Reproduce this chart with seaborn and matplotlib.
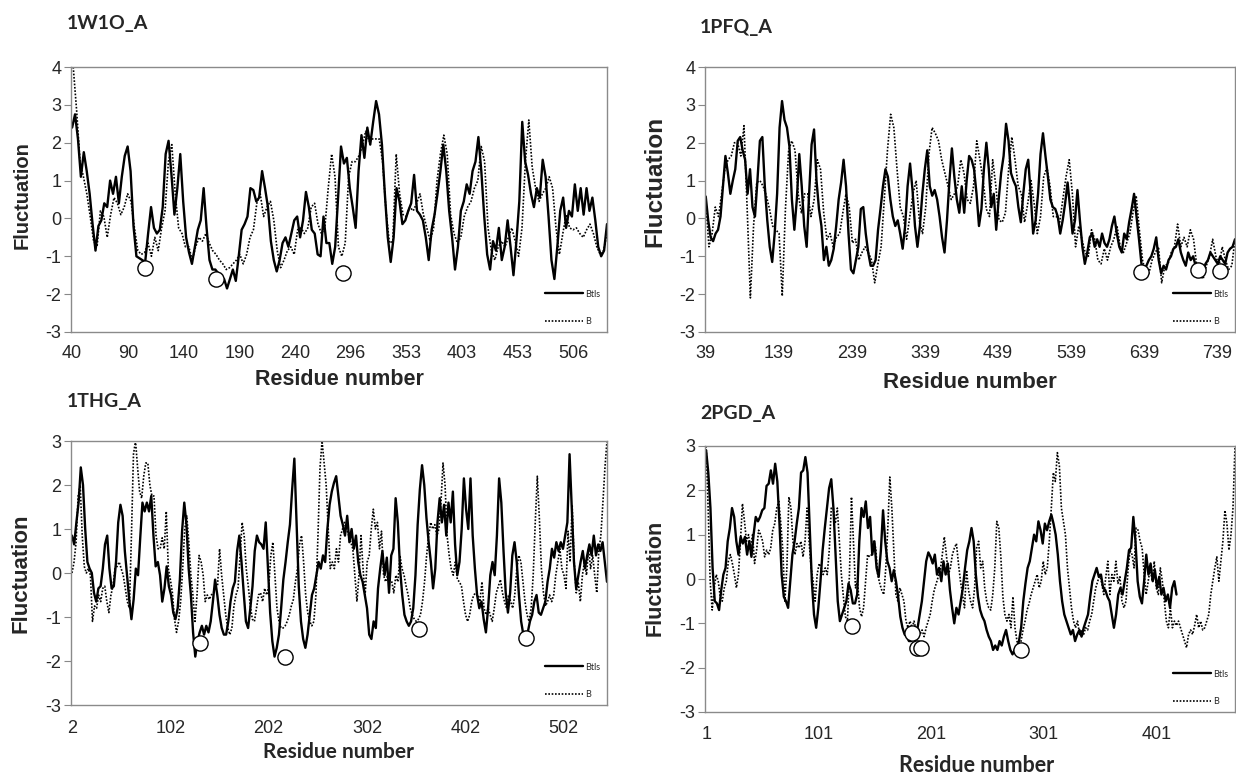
import numpy as np
import matplotlib
matplotlib.use("Agg")
import matplotlib.pyplot as plt
import seaborn as sns
from matplotlib.lines import Line2D

# ---------------------------------------------
# Data: fluctuation profiles
# (values sampled left to right along each chain)
# ---------------------------------------------
p1_name = "1W1O_A"
p1_labels = ["40", "90", "140", "190", "240", "296", "353", "403", "453", "506"]
p1_nres = 480
p1_btls = [2.4, 2.75, 2.1, 1.1, 1.75, 1.25, 0.65, -0.15, -0.85, -0.2, -0.05, 0.4, 0.3, 1.0, 0.65,
           1.1, 0.4, 1.1, 1.65, 1.9, 1.25, -0.2, -1.0, -1.05, -1.1, -1.15, -0.4, 0.3, -0.25, -0.4,
           -0.3, 0.3, 1.7, 2.05, 1.15, 0.1, 0.8, 1.7, 0.45, -0.5, -0.9, -1.2, -0.75, -0.3, -0.05,
           0.8, -0.25, -1.1, -1.35, -1.35, -1.45, -1.65, -1.6, -1.85, -1.6, -1.35, -1.65, -1.0, -0.3,
           -0.15, 0.05, 0.8, 0.75, 0.45, 0.55, 1.25, 0.8, 0.3, -0.6, -1.1, -1.4, -1.1, -0.65, -0.5,
           -0.75, -0.4, -0.05, 0.05, -0.5, -0.05, 0.7, 0.3, -0.3, -0.4, -0.95, -1.0, 0.05, -0.65,
           -0.65, -1.2, -0.75, 0.55, 1.9, 1.45, 1.6, 0.8, 0.3, -0.25, 1.25, 2.2, 1.6, 2.4, 1.95, 2.55,
           3.1, 2.75, 1.95, 0.65, -0.5, -1.15, -0.5, 0.8, 0.45, -0.15, -0.05, 0.2, 0.4, 1.15, 0.2,
           0.1, -0.05, -0.5, -1.1, -0.3, 0.1, 0.65, 1.25, 1.95, 1.25, 0.2, -0.5, -1.35, -0.75, 0.2,
           0.45, 0.9, 0.65, 1.25, 1.5, 2.15, 1.25, 0.05, -0.95, -1.35, -0.6, -0.85, -0.25, -1.1,
           -0.75, -0.05, -0.75, -1.5, -0.6, 0.45, 2.55, 1.5, 1.15, 0.65, 0.3, 0.8, 0.55, 1.55, 1.1,
           0.05, -1.1, -1.6, -0.75, 0.2, 0.55, -0.25, 0.2, 0.05, 0.9, 0.2, 0.8, 0.1, 0.8, 0.2, 0.55,
           -0.05, -0.75, -1.0, -0.85, -0.15]
p1_b = [4.0, 2.85, 1.5, 1.1, 0.65, 0.05, -0.6, -0.75, 0.2, 0.05, -0.5, 0.1, 0.55, 0.4, 0.1, 0.3,
        0.65, 0.45, -0.25, -0.85, -0.95, -0.9, -0.65, -1.0, -0.5, -0.85, -0.25, 0.2, 1.5, 1.95, 0.65,
        -0.25, -0.4, -0.75, -0.75, -1.1, -0.75, -0.5, -0.6, -0.4, -0.65, -0.85, -0.95, -1.1, -1.2,
        -1.35, -1.3, -1.2, -1.1, -0.95, -1.2, -0.95, -0.5, -0.3, 0.4, 0.65, 0.05, 0.3, 0.45, -0.05,
        -0.85, -1.3, -1.1, -0.85, -0.75, -0.95, -0.3, -0.25, -0.4, -0.25, 0.3, 0.4, -0.15, -0.4,
        -0.25, 0.8, 1.7, 1.1, -0.75, -1.0, -0.65, 1.1, 1.5, 1.5, 1.65, 1.9, 2.3, 2.05, 2.1, 2.1, 2.1,
        1.5, 0.2, -0.65, -0.6, 1.7, 0.65, 0.1, 0.05, 0.3, 0.2, 0.4, 0.65, 0.1, -0.25, -0.6, -0.25,
        1.0, 1.7, 2.2, 1.7, 0.1, -0.4, -0.65, -0.5, 0.05, 0.3, 0.45, 0.8, 1.0, 1.9, 1.5, -0.25,
        -0.85, -1.1, -0.75, -0.6, -0.75, -0.5, -0.25, -0.6, -1.0, -0.25, 1.5, 2.6, 1.35, 0.8, 0.45,
        0.65, 0.8, 1.1, 0.8, -0.25, -0.95, -0.4, 0.1, -0.25, -0.3, -0.25, -0.4, -0.5, -0.3, -0.15,
        -0.4, -0.75, -0.95, -0.85, -0.4]
p1_sites_x = [65, 129, 243]
p1_sites_y = [-1.3, -1.6, -1.45]

p2_name = "1PFQ_A"
p2_labels = ["39", "139", "239", "339", "439", "539", "639", "739"]
p2_nres = 724
p2_btls = [0.58, -0.05, -0.5, -0.6, -0.4, -0.3, 0.05, 0.85, 1.65, 1.2, 0.65, 1.0, 1.3, 2.05, 2.15,
           1.8, 1.55, 0.65, 1.3, 0.3, 0.05, 1.0, 2.05, 2.15, 0.85, -0.05, -0.75, -1.15, -0.4, 0.65,
           2.4, 3.1, 2.6, 2.4, 1.9, 0.5, -0.3, 0.5, 1.7, 0.85, -0.2, -0.75, 0.65, 1.95, 2.35, 1.0,
           0.25, -0.2, -1.1, -0.75, -1.25, -1.1, -0.8, -0.2, 0.5, 0.95, 1.55, 0.85, -0.4, -1.35,
           -1.45, -1.1, -0.75, 0.25, 0.3, -0.4, -0.9, -1.25, -1.25, -1.1, -0.3, 0.25, 0.85, 1.3, 1.1,
           0.5, 0.05, -0.2, -0.05, -0.4, -0.8, -0.2, 0.85, 1.45, 0.75, -0.2, -0.75, -0.2, 0.65, 1.3,
           1.8, 0.85, 0.6, 0.75, 0.5, 0.05, -0.5, -0.9, -0.05, 1.0, 1.85, 1.1, 0.5, 0.15, 0.85, 0.15,
           1.0, 1.65, 1.55, 1.3, 0.65, -0.2, 0.25, 1.3, 2.0, 1.3, 0.3, 0.65, -0.3, 0.5, 1.2, 1.65,
           2.5, 2.05, 1.2, 1.0, 0.85, 0.3, -0.1, 0.65, 1.3, 1.55, 0.65, -0.4, -0.05, 0.65, 1.7, 2.25,
           1.65, 1.1, 0.5, 0.3, 0.25, 0.05, -0.4, -0.05, 0.4, 0.95, 0.3, -0.4, -0.05, 0.75, -0.05,
           -0.75, -1.2, -0.9, -0.5, -0.4, -0.75, -0.55, -0.75, -0.4, -0.65, -0.75, -0.55, -0.2, 0.05,
           -0.4, -0.75, -0.9, -0.4, -0.55, -0.1, 0.25, 0.65, 0.05, -0.55, -1.2, -1.35, -1.25, -1.1,
           -1.0, -0.8, -0.5, -1.1, -1.45, -1.25, -1.35, -1.1, -1.0, -0.8, -0.75, -0.55, -0.9, -1.1,
           -1.25, -0.9, -1.1, -1.0, -1.25, -1.45, -1.5, -1.45, -1.2, -1.1, -0.9, -1.0, -1.1, -1.2,
           -1.0, -1.1, -1.2, -0.9, -0.8, -0.75, -0.55]
p2_b = [0.5, -0.75, -0.4, 0.3, 0.05, 0.65, 1.3, 1.55, 1.65, 2.0, 2.0, 1.65, 2.45, 0.25, -2.1, -0.2,
        0.95, 1.0, 0.85, 0.6, 0.25, -0.2, -0.3, -0.4, -2.05, 0.25, 1.8, 2.05, 1.8, 0.65, 0.15, 0.65,
        0.65, 0.05, 0.5, 1.55, 1.3, 0.15, -0.55, -0.4, -0.75, -0.5, -0.4, 0.15, 0.65, 0.3, -0.65,
        -0.55, -1.1, -0.9, -0.75, -0.9, -1.1, -1.7, -1.2, -0.75, 0.5, 1.8, 2.75, 2.4, 1.3, 0.3,
        0.05, -0.55, 0.05, 0.65, 1.0, -0.05, -0.4, 0.3, 1.7, 2.4, 2.25, 2.05, 1.55, 1.2, 0.85, 0.5,
        0.65, 0.85, 1.55, 1.2, 0.5, 0.4, 0.85, 2.05, 1.55, 1.0, 0.25, 0.05, 1.55, 0.85, -0.05, -0.1,
        0.15, 1.3, 2.15, 1.55, 0.85, 0.65, -0.1, 0.4, 1.0, 0.4, -0.4, 0.05, 1.1, 1.35, 0.85, 0.05,
        0.05, -0.1, 0.5, 1.1, 1.55, 0.65, -0.75, -0.2, -0.55, -0.9, -1.0, -0.3, -0.55, -1.1, -1.2,
        -0.8, -1.1, -0.75, -0.55, -0.2, -0.75, -0.9, -0.65, -0.4, 0.15, 0.6, -0.3, -1.1, -1.45,
        -1.45, -1.1, -0.9, -0.75, -1.7, -1.25, -1.2, -0.9, -0.75, -0.15, -0.75, -0.5, -0.75, -0.3,
        -0.55, -1.25, -1.5, -1.6, -1.25, -1.0, -0.55, -1.0, -1.25, -0.75, -1.1, -1.35, -1.25, -0.55]
p2_sites_x = [596, 673, 704]
p2_sites_y = [-1.42, -1.37, -1.39]

p3_name = "1THG_A"
p3_labels = ["2", "102", "202", "302", "402", "502"]
p3_nres = 544
p3_btls = [0.85, 0.65, 1.15, 1.6, 2.4, 2.0, 1.0, 0.25, 0.1, 0.0, -0.45, -0.65, -0.35, -0.3, 0.1,
           0.65, 0.85, 0.1, -0.35, -0.3, 0.25, 1.15, 1.55, 1.3, 0.5, -0.05, -0.6, -1.05, -0.6, 0.1,
           -0.05, 0.8, 1.6, 1.4, 1.6, 1.4, 1.75, 0.85, 0.15, 0.25, -0.05, -0.65, -0.35, 0.15, -0.3,
           -0.5, -0.9, -1.05, -0.8, -0.15, 0.95, 1.6, 1.1, 0.1, -0.5, -1.35, -1.9, -1.55, -1.35,
           -1.2, -1.4, -1.2, -1.35, -1.1, -0.65, -0.15, -0.5, -0.95, -1.25, -1.4, -1.4, -1.1, -0.65,
           -0.35, -0.2, 0.5, 0.85, 0.25, -0.45, -1.1, -1.25, -0.8, -0.3, 0.5, 0.85, 0.7, 0.65, 0.55,
           1.15, 0.1, -0.9, -1.55, -1.9, -1.7, -1.4, -0.8, -0.15, 0.25, 0.7, 1.1, 1.9, 2.6, 1.15,
           -0.3, -1.1, -1.5, -1.7, -1.4, -0.95, -0.5, -0.35, -0.05, 0.25, 0.1, 0.4, 0.25, 1.0, 1.55,
           1.85, 2.05, 2.2, 1.75, 1.3, 1.1, 0.85, 1.3, 0.7, 1.0, 0.55, 0.85, 0.25, -0.05, -0.2, -0.5,
           -0.8, -1.4, -1.5, -1.1, -1.25, -0.35, 0.1, 0.5, -0.05, 0.35, -0.45, 0.4, 0.55, 1.7, 1.15,
           0.1, -0.5, -0.95, -1.1, -1.2, -1.1, -0.8, -0.05, 1.1, 1.9, 2.45, 2.0, 1.25, 0.7, 0.25,
           -0.35, 0.1, 1.15, 1.7, 1.15, 1.55, 0.85, 1.6, 1.15, 1.85, 0.65, -0.05, 0.25, 1.0, 2.15,
           1.45, 1.0, 2.15, 0.85, 0.1, -0.5, -0.8, -0.65, -1.05, -1.35, -0.8, -0.05, 0.25, -0.05,
           0.85, 2.15, 1.6, 0.5, -0.45, -0.9, -0.45, 0.4, 0.7, 0.25, -0.5, -1.1, -1.4, -1.4, -1.35,
           -1.1, -0.95, -0.65, -0.5, -0.9, -0.95, -0.8, -0.65, -0.2, 0.1, 0.55, 0.35, 0.7, 0.5, 0.7,
           0.55, 0.85, 1.15, 2.7, 1.45, 0.25, -0.35, -0.05, 0.25, 0.5, 0.1, 0.4, 0.65, 0.4, 0.85,
           0.4, 0.65, 0.5, 0.7, 0.25, -0.2]
p3_b = [0.0, 0.25, 0.7, 1.75, 2.0, 0.85, 0.15, 0.0, 0.1, -0.05, -1.1, -0.75, -0.8, -0.5, -0.65,
        -0.35, -0.3, -0.65, -0.9, -0.5, -0.3, 0.1, 0.15, 0.25, 0.1, -0.05, -0.35, -0.65, -0.8, 0.85,
        2.7, 3.0, 2.4, 1.85, 1.7, 2.2, 2.5, 2.5, 2.0, 1.75, 1.75, 0.85, 0.55, 0.55, 0.8, 0.55, 1.4,
        0.1, -0.15, -0.45, -1.05, -1.35, -1.1, -0.65, 0.1, 1.0, 1.3, 0.7, -0.05, -0.5, -1.1, -0.5,
        0.4, 0.25, -0.05, -0.65, -0.5, -0.6, -0.5, -0.45, -0.3, -0.3, 0.55, -0.05, -0.5, -0.95,
        -1.25, -1.4, -1.25, -0.75, -0.5, -0.35, 0.4, 1.15, 0.85, 0.1, -0.3, -0.75, -1.05, -1.1,
        -0.8, -0.5, -0.45, -0.65, -0.35, -0.5, -0.3, 0.4, 0.7, -0.05, -0.8, -1.1, -1.25, -1.25,
        -1.2, -1.1, -0.95, -0.75, -0.6, -0.2, 0.1, 0.65, 0.85, 0.25, -0.5, -0.9, -1.1, -1.2, -1.1,
        -0.5, 0.85, 2.4, 3.0, 2.5, 2.0, 1.0, 0.1, 0.25, 0.1, 0.55, 0.25, 0.85, 1.0, 1.15, 1.0, 0.85,
        0.7, 0.55, -0.05, -0.65, -0.05, 0.85, 0.1, -0.5, 0.25, 0.4, 1.0, 1.45, 1.0, 1.15, 0.55,
        0.95, -0.05, -0.2, -0.05, -0.15, -0.2, -0.45, -0.05, -0.2, 0.4, 0.1, -0.05, -0.3, -0.5,
        -0.8, -0.95, -1.05, -1.1, -1.05, -0.95, -0.65, -0.2, 0.4, 0.85, 1.15, 1.0, 1.1, 0.85, 1.0,
        1.6, 2.5, 2.0, 0.85, 0.4, 0.1, -0.05, 0.25, -0.15, -0.2, -0.3, -0.65, -0.95, -1.1, -0.95,
        -0.65, -0.5, -0.45, -0.5, -0.65, -0.2, -0.8, -0.95, -0.8, -0.95, -1.1, -0.8, -0.45, -0.3,
        -0.15, -0.45, -0.65, -0.8, -0.5, -0.65, -0.8, -0.5, 0.1, 0.4, 0.25, -0.2, -0.65, -0.95,
        -1.1, -0.8, -0.05, 1.15, 2.2, 1.25, 0.1, -0.45, -0.75, -0.65, -0.5, -0.65, -0.5, -0.05,
        0.25, 0.55, 0.1, -0.05, -0.35, 0.95, 0.25, 1.55, 0.25, -0.45, -0.2, -0.65, -0.05, 0.25,
        -0.05, 0.55, 0.1, 0.4, -0.05, -0.45, 0.5, 0.85, 1.6, 2.4, 3.0]
p3_sites_x = [130, 217, 353, 462]
p3_sites_y = [-1.6, -1.9, -1.27, -1.48]

p4_name = "2PGD_A"
p4_labels = ["1", "101", "201", "301", "401"]
p4_nres = 470
p4_btls_last = 418
p4_btls = [2.9, 2.4, 1.6, 0.25, -0.5, -0.55, -0.7, -0.25, 0.1, 0.25, 0.85, 1.15, 1.6, 1.4, 0.85,
           0.55, 0.95, 0.8, 0.95, 0.55, 0.85, 0.5, 1.0, 1.4, 1.3, 1.4, 1.55, 1.6, 2.1, 2.15, 2.45,
           2.15, 2.6, 2.2, 1.25, 0.1, -0.4, -0.5, -0.65, -0.05, 0.55, 0.85, 1.25, 1.6, 2.4, 2.45,
           2.75, 2.4, 1.15, -0.05, -0.8, -1.1, -0.65, -0.05, 0.65, 1.15, 1.6, 2.05, 2.25, 1.6, 0.55,
           -0.5, -0.95, -0.8, -0.65, -0.5, -0.1, -0.25, -0.55, -0.55, -0.35, 0.85, 1.6, 1.4, 1.75,
           1.15, 1.4, 0.55, 0.85, 0.25, 0.05, 0.65, 1.55, 0.85, 0.4, 0.25, -0.05, 0.2, -0.05, -0.4,
           -0.85, -1.1, -1.25, -1.3, -1.4, -1.4, -1.3, -1.15, -1.1, -0.8, -0.5, -0.05, 0.4, 0.6, 0.5,
           0.35, 0.55, 0.1, 0.25, -0.05, 0.4, 0.1, 0.35, -0.25, -0.65, -1.0, -0.65, -0.8, -0.5, -0.2,
           0.25, 0.65, 0.85, 1.15, 0.85, 0.1, -0.4, -0.7, -0.85, -0.95, -1.15, -1.3, -1.4, -1.6,
           -1.5, -1.6, -1.4, -1.5, -1.3, -1.15, -1.4, -1.6, -1.7, -1.6, -1.55, -1.4, -1.1, -0.5,
           -0.1, 0.25, 0.4, 0.7, 1.0, 0.85, 1.3, 1.1, 0.8, 1.25, 1.1, 1.3, 1.45, 1.25, 1.0, 0.55,
           -0.05, -0.5, -0.8, -0.95, -1.1, -1.25, -1.15, -1.4, -1.25, -1.15, -1.3, -1.1, -0.95, -0.8,
           -0.4, -0.05, 0.1, 0.25, 0.05, 0.1, -0.2, -0.25, -0.4, -0.5, -0.8, -1.1, -0.8, -0.35, -0.2,
           -0.35, -0.05, 0.25, 0.65, 0.7, 1.4, 0.85, -0.05, -0.4, -0.55, -0.05, 0.55, 0.1, 0.35,
           -0.05, 0.2, -0.2, 0.05, -0.35, -0.2, -0.5, -0.35, -0.65, -0.2, -0.05, -0.35]
p4_b = [3.0, 1.6, -0.05, -0.7, -0.2, 0.1, -0.05, -0.4, -0.5, -0.2, -0.05, 0.4, 0.55, 0.35, 0.1,
        -0.2, 0.1, 0.85, 1.7, 1.3, 0.85, 1.0, 0.7, 1.0, 0.35, 0.65, 1.1, 1.0, 0.85, 0.5, 0.65, 0.55,
        0.7, 1.1, 1.25, 1.6, 1.75, 1.25, 0.65, -0.5, 0.25, 1.85, 1.6, 0.85, 0.55, 0.8, 0.7, 0.85,
        0.5, 0.85, 1.6, 0.85, 0.25, -0.05, -0.5, 0.1, 0.35, 0.25, 0.1, 0.25, 0.1, 0.65, 1.6, 1.6,
        1.25, 1.6, 0.85, 0.1, -0.4, -0.85, -0.95, 0.1, 1.85, 0.85, -0.2, -0.05, -0.65, -0.85, -0.65,
        -0.05, 0.55, 0.5, 0.55, 0.85, 0.7, 0.1, -0.1, -0.25, -0.35, 0.25, 1.15, 2.3, 1.6, 0.65,
        -0.35, -0.5, -0.2, -0.35, -0.5, -0.95, -1.1, -0.95, -1.1, -0.95, -1.15, -1.1, -1.25, -1.15,
        -1.3, -1.1, -0.95, -0.8, -0.5, -0.25, -0.1, 0.05, 0.2, 0.55, 0.95, 0.55, 0.1, 0.25, 0.55,
        0.7, 0.8, 0.35, -0.05, -0.35, -0.65, 0.2, -0.25, -0.5, -0.65, -0.2, 0.7, 0.85, 0.25, 0.4,
        -0.2, -0.5, -0.65, -0.7, -0.35, 0.25, 1.3, 1.15, 0.5, -0.4, -0.8, -0.95, -0.8, -1.1, -0.4,
        -1.1, -1.4, -1.55, -1.4, -1.15, -0.95, -0.7, -0.55, -0.35, -0.2, -0.05, 0.1, -0.2, -0.05,
        0.4, 0.1, 0.25, 0.85, 1.6, 2.4, 2.2, 2.85, 2.55, 1.6, 1.3, 1.0, 0.25, -0.2, -0.65, -0.95,
        -1.1, -0.95, -1.25, -1.15, -1.25, -1.1, -1.15, -0.95, -0.8, -0.5, -0.2, -0.05, 0.1, -0.1,
        -0.35, 0.05, 0.4, -0.35, 0.1, -0.05, 0.4, -0.1, 0.05, -0.5, -0.65, -0.5, 0.2, 0.65, 0.55,
        0.25, 1.15, 1.1, 0.85, 0.7, 0.1, -0.35, -0.05, 0.25, -0.05, 0.4, -0.2, -0.35, 0.25, -0.05,
        -0.5, -0.95, -1.1, -0.65, -1.1, -0.95, -1.05, -0.95, -1.1, -1.25, -1.4, -1.55, -1.25, -1.15,
        -1.25, -1.05, -0.8, -1.1, -0.95, -1.15, -1.1, -0.95, -0.8, -0.35, -0.05, 0.25, 0.5, -0.05,
        0.4, 0.85, 1.55, 1.25, 0.65, 1.0, 1.6, 3.0]
p4_sites_x = [130, 183, 187, 191, 280]
p4_sites_y = [-1.07, -1.22, -1.56, -1.55, -1.6]

# ---------------------------------------------
# Style
# ---------------------------------------------
sns.set_style("white")
plt.rcParams["font.family"] = ["Liberation Sans", "DejaVu Sans"]
plt.rcParams["axes.unicode_minus"] = False

W, H = 1236, 776
fig = plt.figure(figsize=(W / 100, H / 100), dpi=100)


def box(left, top, right, bottom):
    return [left / W, 1 - bottom / H, (right - left) / W, (bottom - top) / H]


panels = [
    dict(name=p1_name, labels=p1_labels, step=50, nres=p1_nres, btls=p1_btls, b=p1_b,
         btls_end=p1_nres, b_start=1, sx=p1_sites_x, sy=p1_sites_y, ylim=(-3, 4),
         rect=box(71, 67, 607, 332), title_xy=(67, 23), ylab_xy=(22, 195), ylab_fs=14.5,
         xlab_xy=(339, 379), xlab_fs=15.5, xlab_font="Liberation Sans", xpad=9),
    dict(name=p2_name, labels=p2_labels, step=100, nres=p2_nres, btls=p2_btls, b=p2_b,
         btls_end=p2_nres, b_start=0, sx=p2_sites_x, sy=p2_sites_y, ylim=(-3, 4),
         rect=box(705, 67, 1235, 332), title_xy=(700, 27), ylab_xy=(655, 181), ylab_fs=17.5,
         xlab_xy=(970, 383), xlab_fs=16, xlab_font="Liberation Sans", xpad=9),
    dict(name=p3_name, labels=p3_labels, step=100, nres=p3_nres, btls=p3_btls, b=p3_b,
         btls_end=p3_nres, b_start=0, sx=p3_sites_x, sy=p3_sites_y, ylim=(-3, 3),
         rect=box(71, 441, 607, 705), title_xy=(67, 401), ylab_xy=(21, 573), ylab_fs=16,
         xlab_xy=(338, 752), xlab_fs=15, xlab_font="Lato", xpad=11),
    dict(name=p4_name, labels=p4_labels, step=100, nres=p4_nres, btls=p4_btls, b=p4_b,
         btls_end=p4_btls_last, b_start=0, sx=p4_sites_x, sy=p4_sites_y, ylim=(-3, 3),
         rect=box(705, 446, 1235, 712), title_xy=(700, 414), ylab_xy=(655, 578), ylab_fs=15.5,
         xlab_xy=(977, 766), xlab_fs=15.5, xlab_font="Lato", xpad=10),
]

for p in panels:
    ax = fig.add_axes(p["rect"])
    xb = np.linspace(0, p["btls_end"], len(p["btls"]))
    xd = np.linspace(p["b_start"], p["nres"], len(p["b"]))
    sns.lineplot(x=xb, y=p["btls"], ax=ax, color="black", linewidth=1.7,
                 sort=False, estimator=None)
    sns.lineplot(x=xd, y=p["b"], ax=ax, color="black", linewidth=1.2,
                 linestyle=(0, (1, 1.0)), sort=False, estimator=None)
    sns.scatterplot(x=p["sx"], y=p["sy"], ax=ax, s=120, color="white",
                    edgecolor="black", linewidth=1.0, zorder=5, legend=False)

    ax.set_xlim(-1, p["nres"])
    ax.set_ylim(*p["ylim"])
    ax.set_yticks(range(p["ylim"][0], p["ylim"][1] + 1))
    ax.set_xticks([i * p["step"] for i in range(len(p["labels"]))])
    ax.set_xticklabels(p["labels"])
    ax.tick_params(axis="y", length=5, width=0.8, color="#888888", pad=2,
                   labelsize=13, left=True)
    ax.tick_params(axis="x", length=0, pad=p["xpad"], labelsize=13)
    for s in ax.spines.values():
        s.set_color("#8a8a8a")
        s.set_linewidth(1.0)
    ax.set_xlabel("")
    ax.set_ylabel("")

    handles = [Line2D([], [], color="black", lw=1.7),
               Line2D([], [], color="black", lw=1.2, linestyle=(0, (1, 1.0)))]
    ax.legend(handles, ["Btls", "B"], loc="lower right", frameon=False,
              prop={"family": "Lato", "size": 6.5}, handlelength=4.2,
              handletextpad=0.3, labelspacing=2.0, borderaxespad=0.3)

    fig.text(p["title_xy"][0] / W, 1 - p["title_xy"][1] / H, p["name"], fontsize=14,
             fontweight="bold", family="Lato", ha="left", va="center")
    fig.text(p["ylab_xy"][0] / W, 1 - p["ylab_xy"][1] / H, "Fluctuation",
             fontsize=p["ylab_fs"], fontweight="bold", rotation=90, ha="center", va="center")
    fig.text(p["xlab_xy"][0] / W, 1 - p["xlab_xy"][1] / H, "Residue number",
             fontsize=p["xlab_fs"], fontweight="bold", family=p["xlab_font"],
             ha="center", va="center")

fig.savefig("out.png", dpi=100)
